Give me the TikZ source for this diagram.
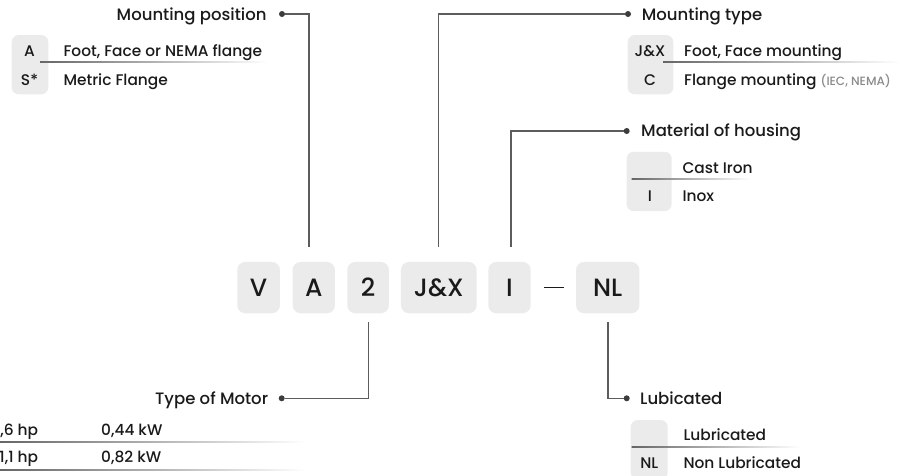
\documentclass[tikz,border=0pt]{standalone}
\usepackage{fontspec}
\setmainfont{Poppins}[UprightFont={* Medium}]
\definecolor{boxgray}{HTML}{EBEBEB}
\definecolor{ink}{HTML}{1A1A1A}
\definecolor{lineg}{HTML}{5C5C5C}
\definecolor{notegray}{HTML}{8A8A8A}
\begin{document}
\begin{tikzpicture}[x=1pt,y=-1pt,
  codebox/.style={fill=boxgray, draw=none, rounded corners=8pt, inner sep=0},
  tbox/.style={fill=boxgray, draw=none, rounded corners=7pt, inner sep=0},
  big/.style={font=\fontsize{25}{26}\selectfont, text=ink},
  title/.style={font=\fontsize{16.5}{17}\selectfont, text=ink, inner sep=0},
  row/.style={font=\fontsize{15.4}{16}\selectfont, text=ink, inner sep=0},
  conn/.style={draw=lineg, line width=1.1pt},
  dotm/.style={circle, fill=ink!85, inner sep=0, minimum size=6pt},
  sep/.style={left color=black!60, right color=white}
]
\useasboundingbox (0,0) rectangle (921,475);

% ---- central code row ----
\node[codebox, big, minimum width=42.7pt, minimum height=51.3pt] (bV) at (258.6,287.6) {V};
\node[codebox, big, minimum width=42.3pt, minimum height=51.3pt] (bA) at (313.8,287.6) {A};
\node[codebox, big, minimum width=41.7pt, minimum height=51.3pt] (b2) at (368.1,287.6) {2};
\node[codebox, big, minimum width=75.7pt, minimum height=51.3pt] (bJ) at (438.8,287.6) {J\&X};
\node[codebox, big, minimum width=42.4pt, minimum height=51.3pt] (bI) at (509.5,287.6) {I};
\node[codebox, big, minimum width=63.3pt, minimum height=51.3pt] (bN) at (607.7,287.6) {NL};
\coordinate (dashL) at (544,287.7);
\coordinate (dashR) at (564,287.7);
\draw[ink, line width=1pt] (dashL) -- (dashR);

% ---- Mounting position (top left) ----
\node[title, anchor=base east] (tmp) at (266.7,20.7) {Mounting position};
\node[dotm] (dmp) at (282,14) {};
\node[tbox, minimum width=36.6pt, minimum height=59.3pt] (xmp) at (30,64.7) {};
\node[row, anchor=base] (cmpA) at (29.5,56.7) {A};
\node[row, anchor=base] (cmpS) at (29.5,85) {S*};
\node[row, anchor=base west] (lmpA) at (63.3,56.7) {Foot, Face or NEMA flange};
\node[row, anchor=base west] (lmpS) at (63.3,85) {Metric Flange};
\shade[sep] (40,61.8) rectangle (268,62.8);
\coordinate (tA) at ([xshift=-4.8pt,yshift=15pt]bA.north);
\draw[conn] (dmp) -| (tA);

% ---- Mounting type (top right) ----
\node[dotm] (dmt) at (628,14) {};
\node[title, anchor=base west] (tmt) at (641.7,20.7) {Mounting type};
\node[tbox, minimum width=45.6pt, minimum height=59.3pt] (xmt) at (650.5,64.7) {};
\node[row, anchor=base] (cmtJ) at (650,56.7) {J\&X};
\node[row, anchor=base] (cmtC) at (650,85) {C};
\node[row, anchor=base west] (lmtJ) at (684,56.7) {Foot, Face mounting};
\node[row, anchor=base west] (lmtC) at (684,85) {Flange mounting {\color{notegray}\fontsize{12}{13}\selectfont (IEC, NEMA)}};
\shade[sep] (663,61.8) rectangle (900,62.8);
\coordinate (tJ) at ([xshift=-0.5pt,yshift=15pt]bJ.north);
\draw[conn] (dmt) -| (tJ);

% ---- Material of housing ----
\node[dotm] (dmh) at (626.7,131) {};
\node[title, anchor=base west] (tmh) at (641,136.7) {Material of housing};
\node[tbox, minimum width=45pt, minimum height=59.3pt] (xmh) at (649.2,181.4) {};
\node[row, anchor=base west] (lmhC) at (682.3,173.3) {Cast Iron};
\node[row, anchor=base] (cmhI) at (650,201.7) {I};
\node[row, anchor=base west] (lmhI) at (682.3,201.7) {Inox};
\shade[sep] (631.7,178.8) rectangle (750,179.8);
\coordinate (tI) at ([xshift=1.5pt,yshift=15pt]bI.north);
\draw[conn] (dmh) -| (tI);

% ---- Type of Motor ----
\node[title, anchor=base east] (ttm) at (268.3,404) {Type of Motor};
\node[dotm] (dtm) at (281.7,398.3) {};
\node[row, anchor=base east] (ltm1) at (38.3,435) {0,6 hp};
\node[row, anchor=base west] (ktm1) at (101,435) {0,44 kW};
\node[row, anchor=base east] (ltm2) at (38.3,462.3) {1,1 hp};
\node[row, anchor=base west] (ktm2) at (101,462.3) {0,82 kW};
\shade[sep] (0,441.2) rectangle (306.7,442.2);
\shade[sep] (0,469.5) rectangle (306.7,470.5);
\coordinate (t2) at ([yshift=-8.3pt]b2.south);
\draw[conn] (dtm) -| (t2);

% ---- Lubicated ----
\node[dotm] (dlu) at (626.7,398.3) {};
\node[title, anchor=base west] (tlu) at (640,404) {Lubicated};
\node[tbox, minimum width=37pt, minimum height=59.3pt] (xlu) at (649.2,449.7) {};
\node[row, anchor=base west] (llu1) at (683.3,440) {Lubricated};
\node[row, anchor=base] (clu2) at (649.3,468.3) {NL};
\node[row, anchor=base west] (llu2) at (683.3,468.3) {Non Lubricated};
\shade[sep] (631.7,446.8) rectangle (800,447.8);
\coordinate (tN) at ([xshift=0.3pt,yshift=-8.3pt]bN.south);
\draw[conn] (dlu) -| (tN);
\end{tikzpicture}
\end{document}
